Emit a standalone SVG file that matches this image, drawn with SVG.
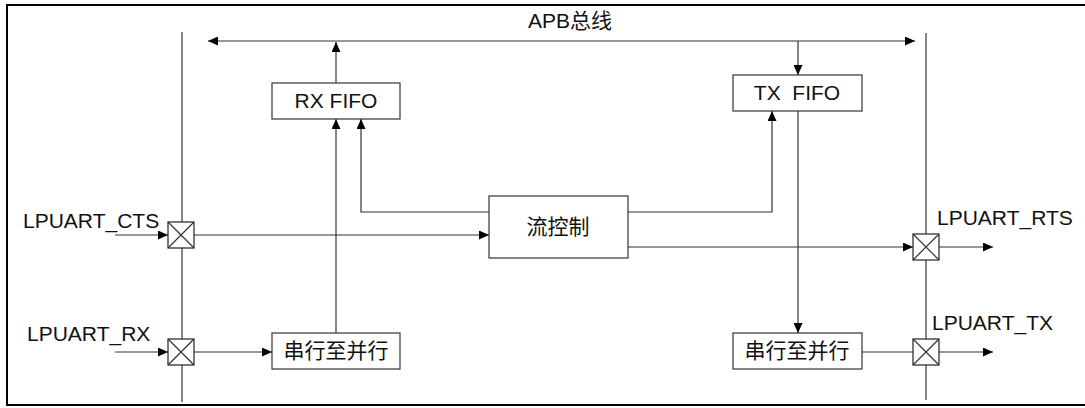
<svg xmlns="http://www.w3.org/2000/svg" width="1085" height="408" viewBox="0 0 1085 408">
<defs>
<marker id="ah" markerUnits="userSpaceOnUse" markerWidth="11" markerHeight="9" refX="10" refY="4.5" orient="auto-start-reverse" viewBox="0 0 11 9">
<path d="M0,0 L10,4.5 L0,9 z" fill="#000"/>
</marker>
<style>
.ln{stroke:#333;stroke-width:1.2;fill:none}
.arr{marker-end:url(#ah)}
.box{fill:#fff;stroke:#333;stroke-width:1.2}
.pad{fill:#fff;stroke:#222;stroke-width:1.2}
.t{font-family:"Liberation Sans","Noto Sans CJK SC",sans-serif;font-size:21px;fill:#111}
.c{text-anchor:middle}
</style>
</defs>
<rect x="0" y="0" width="1085" height="408" fill="#fff"/>
<rect x="7" y="5" width="1090" height="400" fill="none" stroke="#000" stroke-width="2"/>
<g id="buslines">
<line class="ln" x1="182" y1="32" x2="182" y2="402"/>
<line class="ln" x1="926" y1="33" x2="926" y2="400"/>
</g>
<g id="connectors">
<line class="ln" x1="208" y1="41" x2="915" y2="41" marker-start="url(#ah)" marker-end="url(#ah)"/>
<line class="ln arr" x1="336" y1="83" x2="336" y2="42"/>
<line class="ln arr" x1="798" y1="41" x2="798" y2="75"/>
<line class="ln arr" x1="336" y1="333" x2="336" y2="119"/>
<polyline class="ln arr" points="489,212 361,212 361,119"/>
<polyline class="ln arr" points="628,212 772,212 772,111"/>
<line class="ln arr" x1="798" y1="111" x2="798" y2="333"/>
<line class="ln arr" x1="115" y1="235" x2="168" y2="235"/>
<line class="ln arr" x1="194" y1="235" x2="489" y2="235"/>
<line class="ln arr" x1="115" y1="352" x2="168" y2="352"/>
<line class="ln arr" x1="194" y1="352" x2="272" y2="352"/>
<line class="ln arr" x1="628" y1="247" x2="913" y2="247"/>
<line class="ln arr" x1="939" y1="247" x2="993" y2="247"/>
<line class="ln" x1="862" y1="352" x2="913" y2="352"/>
<line class="ln arr" x1="939" y1="352" x2="993" y2="352"/>
</g>
<text class="t c" x="570" y="28">APB总线</text>
<g id="rxfifo"><rect class="box" x="272" y="83" width="128" height="36"/><text class="t c" x="336" y="108">RX FIFO</text></g>
<g id="txfifo"><rect class="box" x="733" y="75" width="129" height="36"/><text class="t c" x="797" y="100" style="white-space:pre">TX  FIFO</text></g>
<g id="flow"><rect class="box" x="489" y="196" width="139" height="62"/><text class="t c" x="558" y="234">流控制</text></g>
<g id="rxs2p"><rect class="box" x="272" y="333" width="128" height="36"/><text class="t c" x="336" y="358">串行至并行</text></g>
<g id="txs2p"><rect class="box" x="733" y="333" width="129" height="36"/><text class="t c" x="797" y="358">串行至并行</text></g>
<g id="ctspad"><rect class="pad" x="168" y="222" width="26" height="26"/><path class="ln" d="M168,222 L194,248 M194,222 L168,248"/><text class="t" x="23" y="228">LPUART_CTS</text></g>
<g id="rxpad"><rect class="pad" x="168" y="339" width="26" height="26"/><path class="ln" d="M168,339 L194,365 M194,339 L168,365"/><text class="t" x="27" y="341">LPUART_RX</text></g>
<g id="rtspad"><rect class="pad" x="913" y="234" width="26" height="26"/><path class="ln" d="M913,234 L939,260 M939,234 L913,260"/><text class="t" x="937" y="225">LPUART_RTS</text></g>
<g id="txpad"><rect class="pad" x="913" y="339" width="26" height="26"/><path class="ln" d="M913,339 L939,365 M939,339 L913,365"/><text class="t" x="932" y="330">LPUART_TX</text></g>
</svg>
